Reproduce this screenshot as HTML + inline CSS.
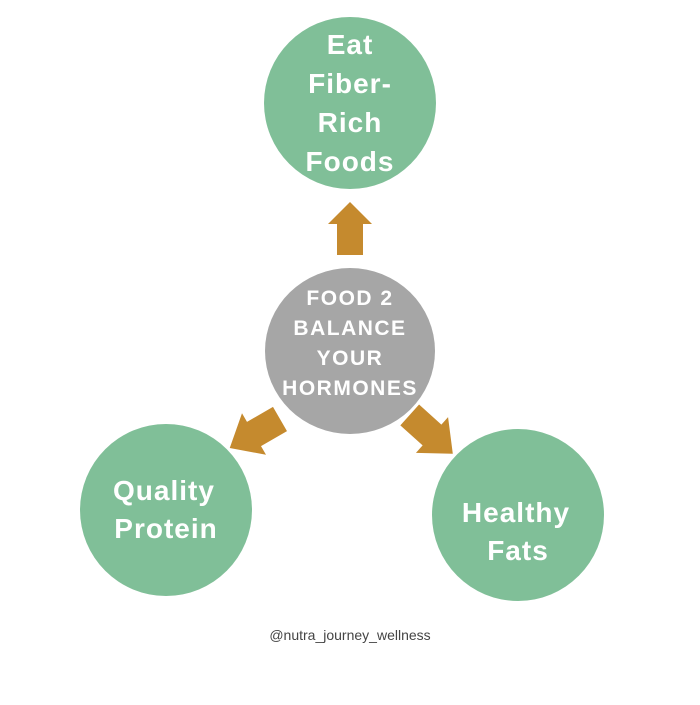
<!DOCTYPE html>
<html><head><style>
body{margin:0;background:#fff;width:700px;height:700px;overflow:hidden}
svg text{font-family:"Liberation Sans",sans-serif;font-weight:bold;fill:#fff;text-anchor:middle}
</style></head><body>
<svg width="700" height="700" viewBox="0 0 700 700">
<circle cx="350" cy="103" r="86" fill="#80bf98"/>
<ellipse cx="350" cy="351" rx="85" ry="83" fill="#a6a6a6"/>
<circle cx="166" cy="510" r="86" fill="#80bf98"/>
<circle cx="518" cy="515" r="86" fill="#80bf98"/>
<polygon points="350,202 372,224 363,224 363,255 337,255 337,224 328,224" fill="#c58a2e"/>
<g transform="translate(254,434) rotate(150)"><polygon points="-30,-14 0,-14 0,-24 28,0 0,24 0,14 -30,14" fill="#c58a2e"/></g>
<g transform="translate(432,435) rotate(42)"><polygon points="-30,-14 0,-14 0,-24 28,0 0,24 0,14 -30,14" fill="#c58a2e"/></g>
<g font-size="28" letter-spacing="1">
<text x="350" y="54">Eat</text>
<text x="350" y="93">Fiber-</text>
<text x="350" y="132">Rich</text>
<text x="350" y="171">Foods</text>
<text x="164" y="500">Quality</text>
<text x="166" y="538">Protein</text>
<text x="516" y="522">Healthy</text>
<text x="518" y="560">Fats</text>
</g>
<g font-size="21" letter-spacing="1.5">
<text x="350" y="305">FOOD 2</text>
<text x="350" y="335">BALANCE</text>
<text x="350" y="365">YOUR</text>
<text x="350" y="395">HORMONES</text>
</g>
<text x="350" y="640" font-size="14" style="font-weight:normal;fill:#444">@nutra_journey_wellness</text>
</svg>
</body></html>
